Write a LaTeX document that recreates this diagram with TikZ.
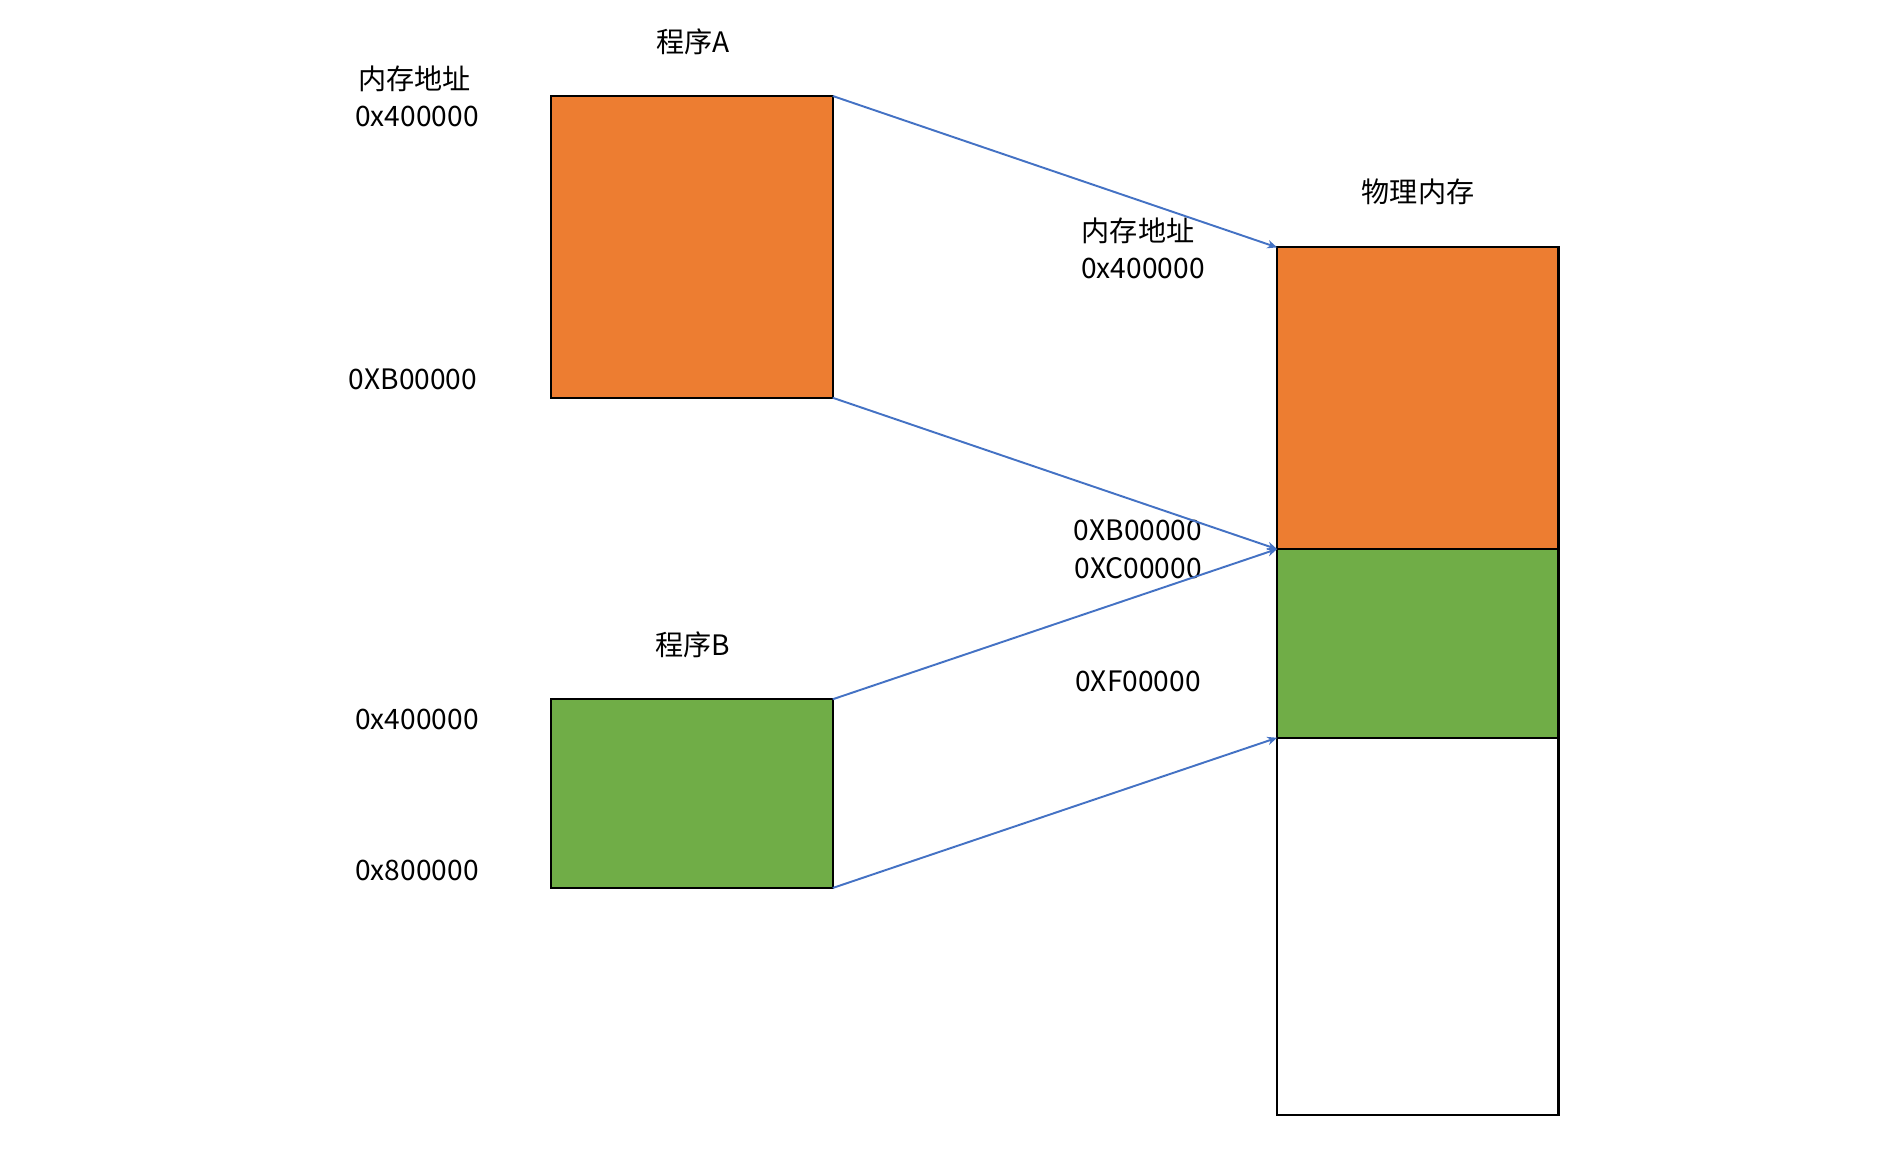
\documentclass[tikz,border=0pt]{standalone}
\usepackage{fontspec}
\setmainfont{Noto Sans CJK SC}
\usetikzlibrary{arrows.meta,positioning}
\definecolor{segorange}{HTML}{ED7D31}
\definecolor{seggreen}{HTML}{70AD47}
\definecolor{mapblue}{HTML}{4472C4}

\begin{document}
\begin{tikzpicture}[x=0.01cm,y=-0.01cm,
    seg/.style={draw=black,line width=0.6pt,inner sep=0pt,outer sep=0pt,minimum width=2.812cm},
    lbl/.style={inner sep=0pt,font=\fontsize{8}{9.5}\selectfont},
    map/.style={draw=mapblue,line width=0.55pt,-{Stealth[length=2.8pt,width=2.4pt]}}]
   \useasboundingbox (0,0) rectangle (1884,1176);
   % program A / program B
   \node[seg,fill=segorange,minimum height=3.016cm] (progA) at (692.1,246.9) {};
   \node[seg,fill=seggreen,minimum height=1.886cm] (progB) at (692.1,793.6) {};
   % physical memory
   \node[seg,fill=segorange,minimum height=3.016cm] (memA) at (1417.8,398.3) {};
   \node[seg,fill=seggreen,minimum height=1.886cm] (memB) at (1417.8,643.4) {};
   \node[seg,fill=white,minimum height=3.773cm] (memFree) at (1417.8,926.4) {};
   \draw[line width=0.6pt] (memA.north west) rectangle (memFree.south east);
   % labels
   \node[lbl] (titleA) at (693,42) {程序A};
   \node[lbl] (addrA) at (414.5,79.3) {内存地址};
   \node[lbl] (startA) at (417,116.5) {0x400000};
   \node[lbl] (endA) at (413,379.7) {0XB00000};
   \node[lbl] (titleB) at (693,645) {程序B};
   \node[lbl] (startB) at (417,719.7) {0x400000};
   \node[lbl] (endB) at (417,870) {0x800000};
   \node[lbl] (titleMem) at (1418,192) {物理内存};
   \node[lbl] (addrMem) at (1138,230.7) {内存地址};
   \node[lbl] (memStartA) at (1143,268) {0x400000};
   \node[lbl] (memEndA) at (1138,530) {0XB00000};
   \node[lbl] (memStartB) at (1138,568) {0XC00000};
   \node[lbl] (memEndB) at (1138,681) {0XF00000};
   % mappings
   \draw[map] (progA.north east) -- (memA.north west);
   \draw[map] (progA.south east) -- (memA.south west);
   \draw[map] (progB.north east) -- (memB.north west);
   \draw[map] (progB.south east) -- (memB.south west);
\end{tikzpicture}
\end{document}
